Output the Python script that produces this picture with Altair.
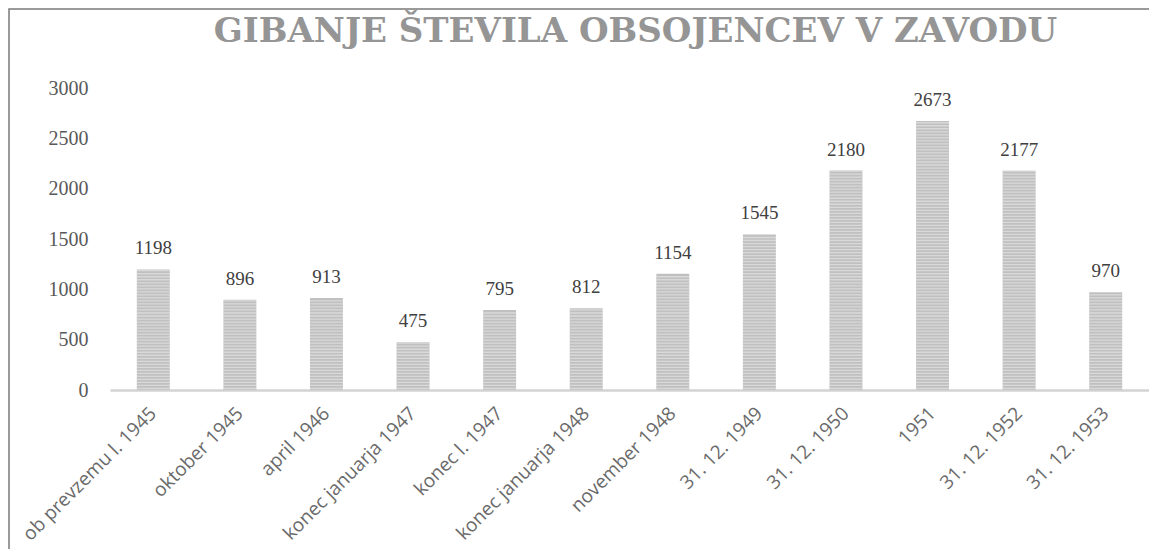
import altair as alt
import pandas as pd

categories = [
    "ob prevzemu l. 1945", "oktober 1945", "april 1946", "konec januarja 1947",
    "konec l. 1947", "konec januarja 1948", "november 1948", "31. 12. 1949",
    "31. 12. 1950", "1951", "31. 12. 1952", "31. 12. 1953",
]
values = [1198, 896, 913, 475, 795, 812, 1154, 1545, 2180, 2673, 2177, 970]
y_ticks = [0, 500, 1000, 1500, 2000, 2500, 3000]
title_text = "GIBANJE ŠTEVILA OBSOJENCEV V ZAVODU"

df = pd.DataFrame({"kategorija": categories, "vrednost": values})

W, H = 1039, 302

x_enc = alt.X(
    "kategorija:N",
    sort=categories,
    scale=alt.Scale(paddingInner=0.62, paddingOuter=0.31),
    axis=alt.Axis(
        title=None, labelAngle=-45, labelAlign="right", labelBaseline="middle",
        labelFont="Open Sans", labelFontSize=19, labelColor="#6a6a6a",
        labelPadding=20, ticks=False, domainColor="#d3d3d3", domainWidth=2.5,
        labelOverlap=False, labelLimit=400,
    ),
)
y_enc = alt.Y(
    "vrednost:Q",
    scale=alt.Scale(domain=[0, 3000]),
    axis=alt.Axis(
        values=y_ticks, format="d", title=None, grid=False, ticks=False,
        domain=False, labelFont="Liberation Serif", labelFontSize=20,
        labelColor="#595959", labelPadding=22,
    ),
)

bars = alt.Chart(df).mark_bar(color="#c0c0c0").encode(x=x_enc, y=y_enc)

stripes = (
    alt.Chart(df)
    .transform_calculate(s="sequence(15, datum.vrednost, 30)")
    .transform_flatten(["s"])
    .mark_tick(color="#e4e4e4", thickness=1.3, size=33)
    .encode(x=alt.X("kategorija:N", sort=categories), y=alt.Y("s:Q"))
)

labels = (
    alt.Chart(df)
    .mark_text(font="Liberation Serif", fontSize=19, color="#404040",
               baseline="alphabetic", dy=-15)
    .encode(x=alt.X("kategorija:N", sort=categories), y=alt.Y("vrednost:Q"),
            text=alt.Text("vrednost:Q", format="d"))
)

border = (
    alt.Chart(alt.Data(values=[{"b": 1}]))
    .mark_rect(fillOpacity=0, stroke="#7a7a7a", strokeWidth=1.5)
    .encode(x=alt.value(-101), x2=alt.value(1300),
            y=alt.value(-79), y2=alt.value(800))
)

chart = (
    alt.layer(bars, stripes, labels, border)
    .properties(
        width=W, height=H,
        autosize="none",
        padding={"left": 102, "top": 80, "right": 0, "bottom": 159},
        title=alt.Title(
            title_text, font="DejaVu Serif", fontSize=34, fontWeight="bold",
            color="#959595", anchor="middle", dx=6, offset=-68,
            baseline="alphabetic",
        ),
    )
    .configure_view(strokeWidth=0)
)

chart.save("out.html", embed_options={"renderer": "svg", "actions": False})
